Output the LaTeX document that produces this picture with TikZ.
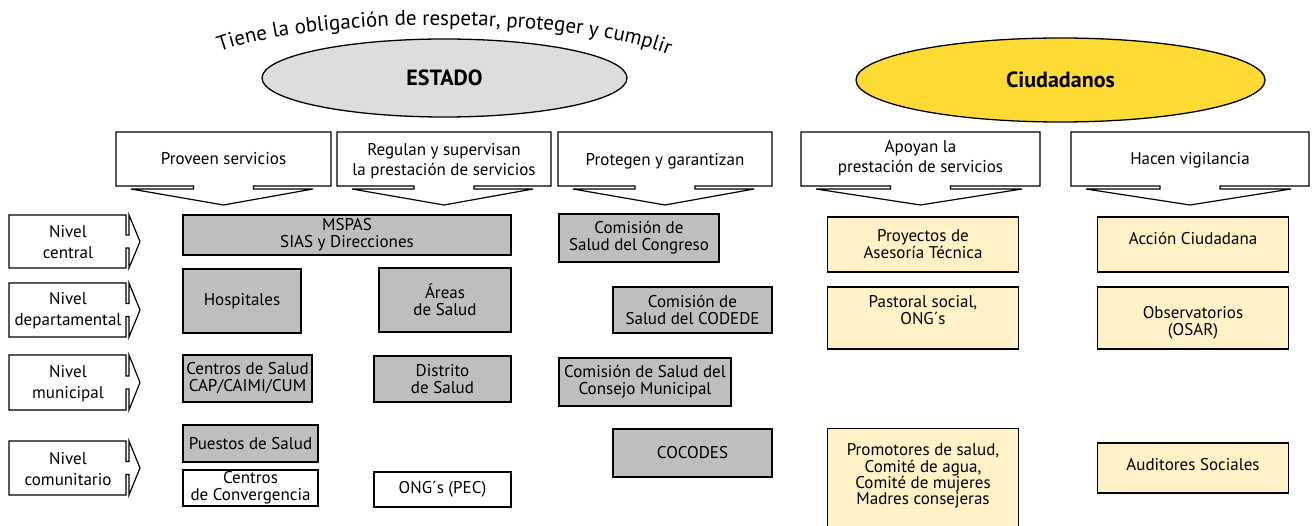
\documentclass[tikz,border=0pt]{standalone}
\usepackage{fontspec}
\setmainfont{PT Sans}
\usetikzlibrary{shapes.geometric,decorations.text}
\definecolor{estadogray}{HTML}{DCDDDE}
\definecolor{ciudyellow}{HTML}{FDDB33}
\definecolor{boxgray}{HTML}{BCBEC0}
\definecolor{boxyellow}{HTML}{FFF2C6}
\newcommand\bodyfont{\fontsize{17}{17}\selectfont}
\newcommand\hdrfont{\fontsize{17}{20}\selectfont}
\newcommand\nivfont{\fontsize{17}{21}\selectfont}
\newcommand\tightfont{\fontsize{17}{16.3}\selectfont}
\newcommand\titlefont{\fontsize{21}{21}\selectfont}
\newcommand\ovalfont{\fontsize{22}{22}\selectfont\bfseries}
\newcommand\hdrcallout[5]{%
  \draw[shapeline] (#2,132) -- (#3,132) -- (#3,186) -- ({(#2+#3)/2+30},186) -- ({(#2+#3)/2+30},189)
    -- ({#3-18},189) -- ({(#2+#3)/2},205) -- ({#2+15},189) -- ({(#2+#3)/2-30},189)
    -- ({(#2+#3)/2-30},186) -- (#2,186) -- cycle;
  \node[txt,font=\hdrfont] (#1) at ({(#2+#3)/2},#4) {#5};}
\newcommand\nivarrow[4]{%
  \draw[shapeline] (9,#2) -- (126,#2) -- (126,{(#2+#3)/2-6.5}) -- (129,{(#2+#3)/2-6.5}) -- (129,#2)
    -- (140,{(#2+#3)/2}) -- (129,#3) -- (129,{(#2+#3)/2+6.5}) -- (126,{(#2+#3)/2+6.5})
    -- (126,#3) -- (9,#3) -- cycle;
  \node[txt,font=\nivfont] (#1) at (68,{(#2+#3)/2+1}) {#4};}
\begin{document}
\begin{tikzpicture}[x=1pt,y=-1pt,
  shapeline/.style={draw=black,line width=1.2pt,fill=white,line join=miter},
  txt/.style={inner sep=0pt,align=center,font=\bodyfont},
  oval/.style={draw=black,line width=1.3pt,ellipse,inner sep=0pt,font=\ovalfont},
  gbox/.style={draw=black,line width=1.2pt,fill=boxgray,inner sep=0pt,align=center,font=\bodyfont},
  wbox/.style={gbox,fill=white},
  ybox/.style={gbox,fill=boxyellow}]
\useasboundingbox (0,0) rectangle (1316,526);
\clip (0,0) rectangle (1316,526);
% title along arc
\path[decorate,decoration={text along path,text align=center,
  text={|\titlefont|Tiene la obligación de respetar, proteger y cumplir}}]
  (206,57) .. controls (300,14) and (590,14) .. (682,61);
% ovals
\node[oval,fill=estadogray,minimum width=365,minimum height=78] (estado) at (444.5,78) {ESTADO};
\node[oval,fill=ciudyellow,minimum width=409,minimum height=84] (ciud) at (1060.5,80) {Ciudadanos};
% header callouts
\hdrcallout{proveen}{116}{331}{159}{Proveen servicios}
\hdrcallout{regulan}{337}{551}{161}{Regulan y supervisan\\la prestación de servicios}
\hdrcallout{protegen}{558}{772}{161}{Protegen y garantizan}
\hdrcallout{apoyan}{801}{1040}{158}{Apoyan la\\prestación de servicios}
\hdrcallout{hacen}{1071}{1309}{160}{Hacen vigilancia}
% level arrows
\nivarrow{central}{215}{268}{Nivel\\central}
\nivarrow{depto}{283}{337}{Nivel\\departamental}
\nivarrow{munic}{355}{410}{Nivel\\municipal}
\nivarrow{comun}{441}{495}{Nivel\\comunitario}
% estado boxes
\node[gbox,minimum width=328,minimum height=40] (mspas) at (347,235) {MSPAS\\SIAS y Direcciones};
\node[gbox,minimum width=118,minimum height=64] (hosp) at (242,301) {Hospitales};
\node[gbox,minimum width=132,minimum height=64] (areas) at (445,300) {Áreas\\de Salud};
\node[gbox,minimum width=129,minimum height=47] (centros) at (247.5,378.5) {Centros de Salud\\CAP/CAIMI/CUM};
\node[gbox,minimum width=137,minimum height=46] (distrito) at (442.5,379) {Distrito\\de Salud};
\node[gbox,minimum width=135,minimum height=37] (puestos) at (250.5,443.5) {Puestos de Salud};
\node[wbox,minimum width=135,minimum height=36] (converg) at (250.5,488) {Centros\\de Convergencia};
\node[wbox,minimum width=137,minimum height=35] (ongpec) at (442.5,489.5) {ONG´s (PEC)};
\node[gbox,minimum width=160,minimum height=48] (congreso) at (639,238) {Comisión de\\Salud del Congreso};
\node[gbox,minimum width=159,minimum height=46] (codede) at (692.5,310) {Comisión de\\Salud del CODEDE};
\node[gbox,minimum width=172,minimum height=48] (consejo) at (645,382) {Comisión de Salud del\\Consejo Municipal};
\node[gbox,minimum width=159,minimum height=48] (cocodes) at (692.5,453) {COCODES};
% ciudadanos boxes
\node[ybox,minimum width=191,minimum height=55] (proyectos) at (923,244.5) {Proyectos de\\Asesoría Técnica};
\node[ybox,minimum width=191,minimum height=55] (accion) at (1193,244.5) {};
\node[txt] (acciontxt) at (1193,238) {Acción Ciudadana};
\node[ybox,minimum width=191,minimum height=62] (pastoral) at (923,318) {};
\node[txt] (pastoraltxt) at (923,310) {Pastoral social,\\ONG´s};
\node[ybox,minimum width=191,minimum height=62] (observ) at (1193,318) {};
\node[txt] (observtxt) at (1193,323) {Observatorios\\(OSAR)};
\node[ybox,minimum width=191,minimum height=100,anchor=north] (promot) at (923,428) {};
\node[txt,font=\tightfont] (promottxt) at (923,476) {Promotores de salud,\\Comité de agua,\\Comité de mujeres\\Madres consejeras};
\node[ybox,minimum width=191,minimum height=50] (audit) at (1193,468) {};
\node[txt] (audittxt) at (1193,465) {Auditores Sociales};
\end{tikzpicture}
\end{document}
